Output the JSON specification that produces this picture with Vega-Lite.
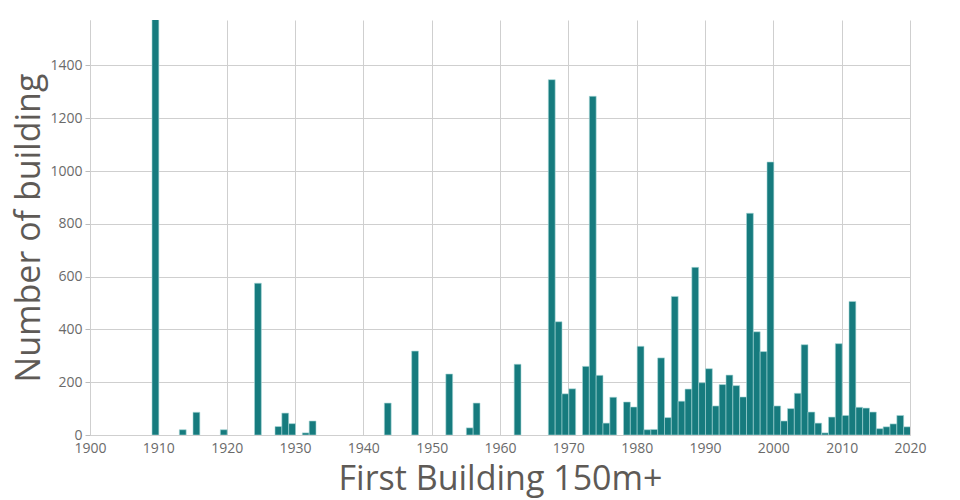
{
  "$schema": "https://vega.github.io/schema/vega-lite/v6.json",
  "autosize": "none",
  "width": 820,
  "height": 415,
  "padding": {"left": 90, "top": 20, "right": 50, "bottom": 65},
  "background": "white",
  "data": {"values": [
    {"year": 1909, "count": 1650},
    {"year": 1913, "count": 20},
    {"year": 1915, "count": 86},
    {"year": 1919, "count": 20},
    {"year": 1924, "count": 575},
    {"year": 1927, "count": 32},
    {"year": 1928, "count": 83},
    {"year": 1929, "count": 43},
    {"year": 1931, "count": 8},
    {"year": 1932, "count": 53},
    {"year": 1943, "count": 121},
    {"year": 1947, "count": 318},
    {"year": 1952, "count": 231},
    {"year": 1955, "count": 27},
    {"year": 1956, "count": 121},
    {"year": 1962, "count": 268},
    {"year": 1967, "count": 1346},
    {"year": 1968, "count": 429},
    {"year": 1969, "count": 156},
    {"year": 1970, "count": 175},
    {"year": 1972, "count": 260},
    {"year": 1973, "count": 1283},
    {"year": 1974, "count": 226},
    {"year": 1975, "count": 45},
    {"year": 1976, "count": 143},
    {"year": 1978, "count": 125},
    {"year": 1979, "count": 106},
    {"year": 1980, "count": 336},
    {"year": 1981, "count": 20},
    {"year": 1982, "count": 21},
    {"year": 1983, "count": 292},
    {"year": 1984, "count": 66},
    {"year": 1985, "count": 525},
    {"year": 1986, "count": 128},
    {"year": 1987, "count": 174},
    {"year": 1988, "count": 635},
    {"year": 1989, "count": 198},
    {"year": 1990, "count": 251},
    {"year": 1991, "count": 110},
    {"year": 1992, "count": 191},
    {"year": 1993, "count": 227},
    {"year": 1994, "count": 187},
    {"year": 1995, "count": 144},
    {"year": 1996, "count": 840},
    {"year": 1997, "count": 391},
    {"year": 1998, "count": 316},
    {"year": 1999, "count": 1034},
    {"year": 2000, "count": 110},
    {"year": 2001, "count": 53},
    {"year": 2002, "count": 100},
    {"year": 2003, "count": 158},
    {"year": 2004, "count": 342},
    {"year": 2005, "count": 87},
    {"year": 2006, "count": 45},
    {"year": 2007, "count": 8},
    {"year": 2008, "count": 68},
    {"year": 2009, "count": 346},
    {"year": 2010, "count": 74},
    {"year": 2011, "count": 506},
    {"year": 2012, "count": 105},
    {"year": 2013, "count": 102},
    {"year": 2014, "count": 87},
    {"year": 2015, "count": 24},
    {"year": 2016, "count": 31},
    {"year": 2017, "count": 42},
    {"year": 2018, "count": 74},
    {"year": 2019, "count": 31}
  ]},
  "mark": {"type": "bar", "color": "#167b7e", "stroke": "#a8d6d6", "strokeWidth": 0.6, "clip": true, "binSpacing": 0},
  "encoding": {
    "x": {
      "field": "year",
      "bin": {"step": 1, "extent": [1900, 2020]},
      "type": "quantitative",
      "scale": {"domain": [1900, 2020], "nice": false, "zero": false},
      "axis": {
        "values": [1900, 1910, 1920, 1930, 1940, 1950, 1960, 1970, 1980, 1990, 2000, 2010, 2020],
        "format": "d",
        "title": "First Building 150m+",
        "grid": true,
        "ticks": false,
        "labelPadding": 6,
        "labelFlush": false,
        "labelOverlap": false,
        "titlePadding": 7
      }
    },
    "y": {
      "aggregate": "sum",
      "field": "count",
      "type": "quantitative",
      "scale": {"domain": [0, 1572], "nice": false},
      "axis": {
        "values": [0, 200, 400, 600, 800, 1000, 1200, 1400],
        "format": "d",
        "title": "Number of building",
        "grid": true,
        "ticks": true,
        "tickSize": 5,
        "labelPadding": 3,
        "titlePadding": 3
      }
    }
  },
  "config": {
    "view": {"stroke": null},
    "axis": {
      "labelFont": "Open Sans",
      "labelFontSize": 14,
      "labelColor": "#6a6a6a",
      "titleFont": "Open Sans",
      "titleFontSize": 34,
      "titleFontWeight": "normal",
      "titleColor": "#5e5a56",
      "gridColor": "#cfcfcf",
      "gridWidth": 1,
      "domainColor": "#cfcfcf",
      "tickColor": "#bbbbbb"
    }
  }
}
